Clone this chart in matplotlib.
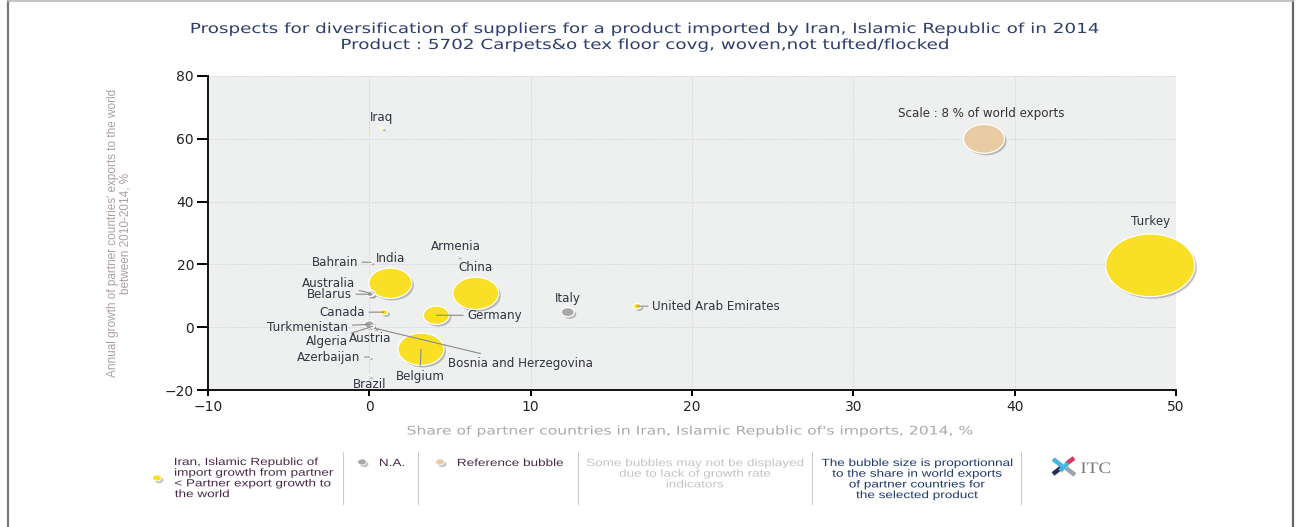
"""Bubble chart: prospects for diversification of suppliers (Iran, carpets 5702, 2014)."""

import numpy as np
import matplotlib
matplotlib.use("Agg")
import matplotlib.pyplot as plt
import matplotlib.patheffects as pe
from matplotlib.font_manager import FontProperties
from matplotlib.lines import Line2D
from matplotlib.markers import MarkerStyle
from matplotlib.patches import PathPatch
from matplotlib.path import Path
from matplotlib.textpath import TextPath
from matplotlib.transforms import Affine2D

# ---------- data -----------------------------------------------------------
countries = ["Turkey", "India", "China", "Belgium", "Germany", "Canada",
             "United Arab Emirates", "Iraq", "Italy", "Turkmenistan",
             "Australia", "Belarus", "Bahrain", "Armenia", "Austria",
             "Algeria", "Bosnia and Herzegovina", "Azerbaijan", "Brazil"]
share_imports = [48.4, 1.3, 6.6, 3.2, 4.15, 0.9, 16.6, 0.8, 12.3, 0.0,
                 0.1, 0.05, 0.1, 5.5, 0.4, 0.2, 0.3, 0.0, 0.0]
export_growth = [19.7, 14.0, 10.8, -7.0, 3.8, 4.8, 6.7, 63.4, 4.8, 0.9,
                 10.8, 10.5, 20.7, 22.6, 0.0, 0.3, -0.3, -9.5, -15.6]
world_share = [37.7, 8.8, 10.0, 10.0, 3.2, 0.3, 0.3, 0.03, 0.8, 0.5,
               0.35, 0.2, 0.02, 0.02, 0.02, 0.02, 0.02, 0.02, 0.02]
category = ["up", "up", "up", "up", "up", "up", "up", "up", "na", "na",
            "na", "na", "na", "na", "na", "na", "na", "na", "na"]

ref_x, ref_y, ref_share = 38.1, 60.0, 8.0

x_ticks = [-10, 0, 10, 20, 30, 40, 50]
y_ticks = [-20, 0, 20, 40, 60, 80]

TITLE = ["Prospects for diversification of suppliers for a product imported by Iran, "
         "Islamic Republic of in 2014",
         "Product : 5702 Carpets&o tex floor covg, woven,not tufted/flocked"]
X_LABEL = "Share of partner countries in Iran, Islamic Republic of's imports, 2014, %"
Y_LABEL = "Annual growth of partner countries' exports to the world\nbetween 2010-2014, %"

# ---------- styling --------------------------------------------------------
COLORS = {"up": "#f9df26", "na": "#a9a9a9", "ref": "#e9cba3"}
PX_PER_SQRT_SHARE = 14.5          # bubble width in px for sqrt(share)
PT = 72 / 100                     # px -> points at dpi 100
STRETCH = 1.32                    # the source picture is stretched sideways

# label offsets in pixels (dx, dy up), alignment, connector line
LABELS = {
    "Turkey": (0, 44, "center", False),
    "India": (0, 25, "center", False),
    "China": (0, 26, "center", False),
    "Belgium": (-1, -27, "center", True),
    "Germany": (31, 0, "left", True),
    "Canada": (-19, 0, "right", True),
    "United Arab Emirates": (15, 0, "left", True),
    "Iraq": (-1, 11, "center", False),
    "Italy": (0, 14, "center", False),
    "Turkmenistan": (-21, -3, "right", True),
    "Australia": (-16, 10, "right", True),
    "Belarus": (-18, 0, "right", True),
    "Bahrain": (-13, 0, "right", True),
    "Armenia": (-2, 10, "center", False),
    "Austria": (-6, -11, "center", True),
    "Algeria": (-25, -15, "right", True),
    "Bosnia and Herzegovina": (74, -35, "left", True),
    "Azerbaijan": (-9, 0, "right", True),
    "Brazil": (0, -8, "center", False),
}

ellipse = Path(Affine2D().scale(1.42, 1.0).transform(Path.unit_circle().vertices),
               Path.unit_circle().codes)
marker = MarkerStyle(ellipse)
shadow = [pe.SimplePatchShadow(offset=(1.5, -1.5), shadow_rgbFace="#777777", alpha=0.45),
          pe.Normal()]


def bubble_size(share):
    w = PX_PER_SQRT_SHARE * np.sqrt(np.asarray(share))
    return (np.maximum(w, 3.2) * PT) ** 2


def wide_text(ax, x, y, s, size_px, color, ha="left", line_px=11,
              family="DejaVu Sans", sx=STRETCH):
    """Text drawn as a path, widened by sx; y is the first baseline (px, y down)."""
    fp = FontProperties(family=family)
    for i, line in enumerate(s.split("\n")):
        tp = TextPath((0, 0), line, size=size_px, prop=fp)
        bb = tp.get_extents()
        w = bb.width * sx
        x0 = {"left": x, "center": x - w / 2, "right": x - w}[ha]
        tr = Affine2D().scale(sx, -1).translate(x0 - bb.x0 * sx, y + i * line_px)
        ax.add_patch(PathPatch(tr.transform_path(tp), fc=color, ec="none", lw=0))


fig = plt.figure(figsize=(13, 5.27), dpi=100)
ax = fig.add_axes([208 / 1300, 1 - 390 / 527, 968 / 1300, 314 / 527])
ax.set_facecolor("#eeefef")

xs = np.array(share_imports)
ys = np.array(export_growth)
sizes = bubble_size(world_share)
cols = [COLORS[c] for c in category]
order = np.argsort(-np.array(world_share))
sc = ax.scatter(xs[order], ys[order], s=sizes[order], c=[cols[i] for i in order],
                marker=marker, edgecolors="white", linewidths=0.9, zorder=3,
                clip_on=False)
sc.set_path_effects(shadow)
rs = ax.scatter([ref_x], [ref_y], s=bubble_size([ref_share]), c=COLORS["ref"],
                marker=marker, edgecolors="white", linewidths=0.9, zorder=3)
rs.set_path_effects(shadow)
ax.annotate("Scale : 8 % of world exports", (ref_x, ref_y), xytext=(-3 * PT, 25 * PT),
            textcoords="offset points", ha="center", va="center", fontsize=8.6,
            color="#333333")

for name, x, y in zip(countries, share_imports, export_growth):
    dx, dy, ha, line = LABELS[name]
    ax.annotate(name, (x, y), xytext=(dx * PT, dy * PT), textcoords="offset points",
                ha=ha, va="center", fontsize=8.6, color="#333340", zorder=4,
                arrowprops=dict(arrowstyle="-", color="#8a8a8a", lw=0.8,
                                shrinkA=1, shrinkB=0) if line else None)

ax.set_xlim(-10, 50)
ax.set_ylim(-20, 80)
ax.set_xticks(x_ticks)
ax.set_yticks(y_ticks)
ax.grid(True, color="#d6d6d6", ls=(0, (1.5, 1.5)), lw=0.7)
ax.set_axisbelow(True)
for s in ("top", "right"):
    ax.spines[s].set_visible(False)
for s in ("left", "bottom"):
    ax.spines[s].set_color("#111111")
    ax.spines[s].set_linewidth(1.4)
ax.tick_params(axis="y", length=8, width=1.4, pad=2, labelsize=10,
               labelcolor="#222222")
ax.tick_params(axis="x", length=4, width=1.4, pad=3, labelsize=10,
               labelcolor="#222222")
ax.set_ylabel(Y_LABEL, fontsize=8.5, color="#ad9f9f", labelpad=24,
              family=["Liberation Sans Narrow", "Liberation Sans"], linespacing=1.1)

# ---------- title / legend / frame overlay (pixel coordinates) -------------
ov = fig.add_axes([0, 0, 1, 1], zorder=-1)
ov.set_xlim(0, 1300)
ov.set_ylim(527, 0)
ov.axis("off")

wide_text(ov, 645, 33, "\n".join(TITLE), 13.9, "#2e3f6e", ha="center", line_px=16)
wide_text(ov, 690, 434.5, X_LABEL, 11.8, "#aaaaaa", ha="center")

ov.add_line(Line2D([8, 8], [0, 527], color="#777777", lw=1.6))
ov.add_line(Line2D([1293, 1293], [0, 527], color="#666666", lw=1.6))
ov.add_line(Line2D([8, 1293], [0.5, 0.5], color="#bbbbbb", lw=1.2))
for sx in (343, 418, 578, 812, 1021):
    ov.add_line(Line2D([sx, sx], [452, 504], color="#cccccc", lw=0.8))

for mx, my, key in ((157, 478, "up"), (362, 462, "na"), (440, 462, "ref")):
    d = ov.scatter([mx], [my], s=40, c=COLORS[key], marker=marker,
                   edgecolors="white", linewidths=0.6)
    d.set_path_effects(shadow)

lg = dict(size_px=10.4, family="Liberation Sans", line_px=10.7, sx=1.3)
wide_text(ov, 175, 465, "Iran, Islamic Republic of\nimport growth from partner\n"
          "< Partner export growth to\nthe world", color="#4a2a4a", **lg)
wide_text(ov, 380, 466, "N.A.", color="#4a2a4a", **lg)
wide_text(ov, 458, 466, "Reference bubble", color="#4a2a4a", **lg)
wide_text(ov, 695, 466, "Some bubbles may not be displayed\ndue to lack of growth rate\n"
          "indicators", color="#c4c4c4", ha="center", **lg)
wide_text(ov, 917, 466, "The bubble size is proportionnal\nto the share in world exports\n"
          "of partner countries for\nthe selected product", color="#1f3a6e",
          ha="center", **lg)

# ITC logo
for (x0, y0, x1, y1), c in (((1053, 474, 1062, 467), "#1f3358"),
                            ((1066, 464, 1074, 458), "#e0345f"),
                            ((1053, 459, 1062, 466), "#49b6e0"),
                            ((1066, 468, 1075, 475), "#9aa4ae"),
                            ((1060, 471, 1068, 463), "#49b6e0")):
    ov.add_line(Line2D([x0, x1], [y0, y1], color=c, lw=3.2, solid_capstyle="butt"))
wide_text(ov, 1081, 473, "ITC", 16, "#7a7a7a", family="Liberation Serif", sx=1.2)

fig.savefig("out.png", dpi=100)
